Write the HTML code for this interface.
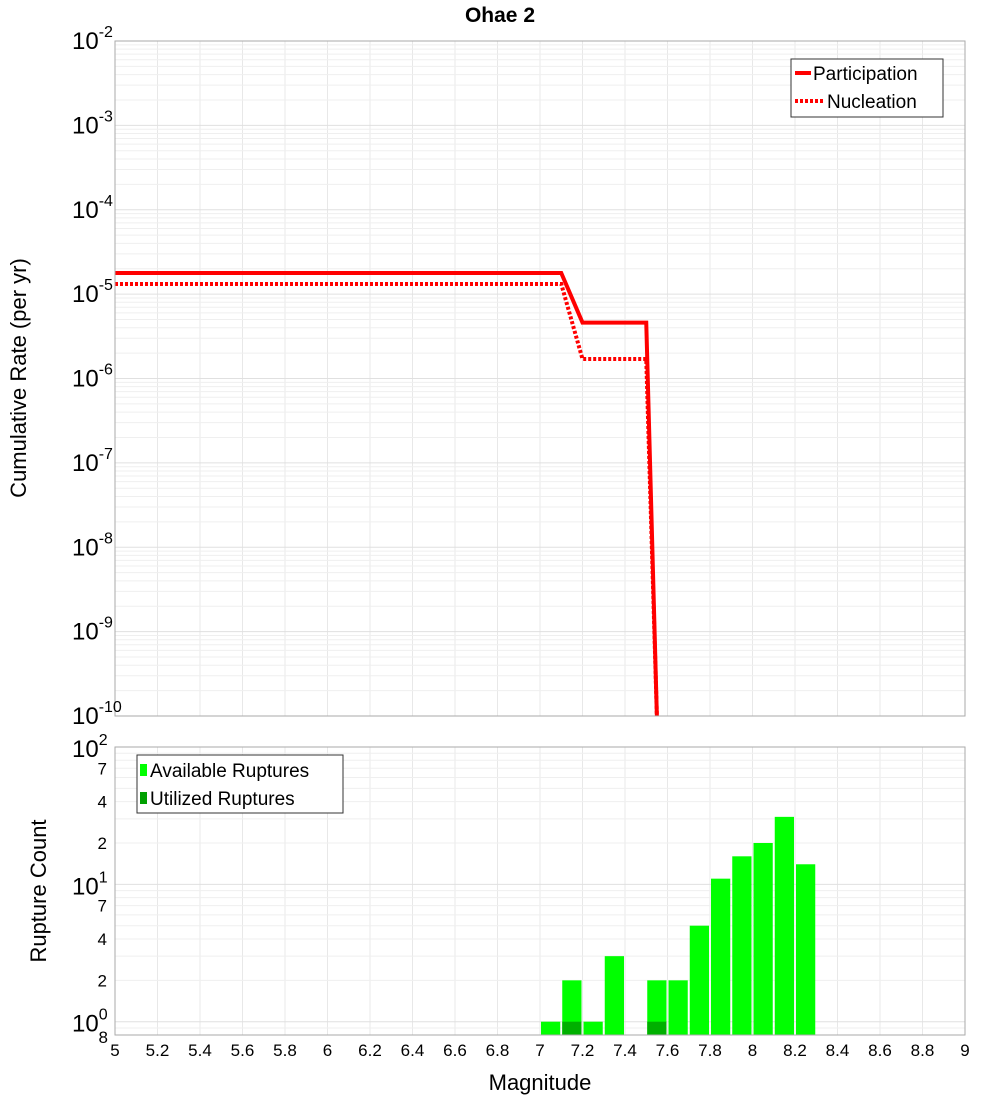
<!DOCTYPE html>
<html><head><meta charset="utf-8"><style>
body{margin:0;background:#fff;}
svg text{font-family:"Liberation Sans","DejaVu Sans",sans-serif;}
</style></head><body>
<svg id="chart" width="1000" height="1100" xmlns="http://www.w3.org/2000/svg">
<text x="500" y="22" text-anchor="middle" font-size="21" font-weight="bold">Ohae 2</text>
<g id="top-grid"></g>
<g id="bot-grid"></g>
<g id="top-series"></g>
<g id="bars"></g>
<rect x="115" y="41" width="850" height="675" fill="none" stroke="#aaa"/>
<rect x="115" y="747" width="850" height="288" fill="none" stroke="#aaa"/>
<g id="axes"></g>
<text transform="translate(26,378) rotate(-90)" text-anchor="middle" font-size="22">Cumulative Rate (per yr)</text>
<text transform="translate(46,891) rotate(-90)" text-anchor="middle" font-size="22">Rupture Count</text>
<text x="540" y="1090" text-anchor="middle" font-size="22">Magnitude</text>
<g>
<rect x="791" y="59" width="152" height="58" fill="#fff" stroke="#333"/>
<line x1="795" y1="73" x2="811" y2="73" stroke="#f00" stroke-width="4"/>
<text x="813" y="80" font-size="19">Participation</text>
<line x1="795" y1="101" x2="823" y2="101" stroke="#f00" stroke-width="4" stroke-dasharray="3,2"/>
<text x="827" y="108" font-size="19">Nucleation</text>
</g>
<g>
<rect x="137" y="755" width="206" height="58" fill="#fff" stroke="#333"/>
<rect x="140" y="764" width="7" height="12" fill="#00ff00"/>
<text x="150" y="777" font-size="19">Available Ruptures</text>
<rect x="140" y="792" width="7" height="12" fill="#00a000"/>
<text x="150" y="805" font-size="19">Utilized Ruptures</text>
</g>
</svg>
<script>
const ratePartM=[5.0,7.1,7.2,7.5,7.55];
const ratePartV=[1.78e-5,1.78e-5,4.6e-6,4.6e-6,1e-10];
const rateNuclM=[5.0,7.1,7.2,7.5,7.55];
const rateNuclV=[1.32e-5,1.32e-5,1.7e-6,1.7e-6,1e-10];
const binCenters=[7.05,7.15,7.25,7.35,7.45,7.55,7.65,7.75,7.85,7.95,8.05,8.15,8.25];
const availCounts=[1,2,1,3,0,2,2,5,11,16,20,31,14];
const usedCounts=[0,1,0,0,0,1,0,0,0,0,0,0,0];
const xTicks=[5,5.2,5.4,5.6,5.8,6,6.2,6.4,6.6,6.8,7,7.2,7.4,7.6,7.8,8,8.2,8.4,8.6,8.8,9];
const NS="http://www.w3.org/2000/svg";
const X=m=>115+(m-5)*212.5;
const YT=v=>41+(-2-Math.log10(v))*84.375;
const BMIN=Math.log10(0.8);
const YB=v=>1035-(Math.log10(v)-BMIN)*(288/(2-BMIN));
function mk(tag,attrs,parent){const e=document.createElementNS(NS,tag);for(const k in attrs)e.setAttribute(k,attrs[k]);parent.appendChild(e);return e;}
const tg=document.getElementById('top-grid'),bg=document.getElementById('bot-grid'),ax=document.getElementById('axes');
for(const t of xTicks){
 const l1=mk('line',{x1:X(t),x2:X(t),y1:41,y2:716,stroke:'#e8e8e8'},tg);
 
 
 const l2=mk('line',{x1:X(t),x2:X(t),y1:747,y2:1035,stroke:'#e8e8e8'},bg);
 
 
 const tx=mk('text',{x:X(t),y:1056,'text-anchor':'middle','font-size':17},ax);
 tx.textContent=String(t);
 
 
}
for(let e=-10;e<=-2;e++){
 for(let k=1;k<=9;k++){
  const v=k*Math.pow(10,e); if(v>0.0100001) continue;
  const g=mk('line',{x1:115,x2:965,y1:YT(v),y2:YT(v),stroke:k==1?'#e0e0e0':'#efefef'},tg);
  
  
 }
 const t=mk('text',{x:72,y:YT(Math.pow(10,e))+8,'font-size':24},ax);
 t.innerHTML='10<tspan dy="-12" font-size="16">'+e+'</tspan>';
 
 
}
for(let e=-1;e<=2;e++){
 for(let k=1;k<=9;k++){
  const v=k*Math.pow(10,e); if(v<0.8||v>100.01) continue;
  const g=mk('line',{x1:115,x2:965,y1:YB(v),y2:YB(v),stroke:k==1?'#e0e0e0':'#efefef'},bg);
  
  
 }
}
for(const e of [0,1,2]){
 const t=mk('text',{x:72,y:YB(Math.pow(10,e))+10,'font-size':24},ax);
 t.innerHTML='10<tspan dy="-12" font-size="16">'+e+'</tspan>';
 
 
}
for(const v of [2,4,7,20,40,70,0.8]){
 const t=mk('text',{x:v==0.8?108:107,y:YB(v)+(v==0.8?8:6),'text-anchor':'end','font-size':17},ax);
 t.textContent=String(v<1?8:(v>=10?v/10:v));
 
 
}
const ts=document.getElementById('top-series');
function line(ms,vs,dash,name){
 const pts=ms.map((m,i)=>X(m)+','+Math.min(716,YT(vs[i]))).join(' ');
 const p=mk('polyline',{points:pts,fill:'none',stroke:'#f00','stroke-width':4},ts);
 if(dash)p.setAttribute('stroke-dasharray','3,2');
 
 
}
line(rateNuclM,rateNuclV,true,'nucleation-line');
line(ratePartM,ratePartV,false,'participation-line');
const bars=document.getElementById('bars');
binCenters.forEach((c,i)=>{
 if(availCounts[i]>0){
  const y=YB(availCounts[i]);
  const r=mk('rect',{x:X(c-0.05)+1,y:y,width:212.5*0.1-2,height:1035-y,fill:'#00ff00'},bars);
  
  
 }
 if(usedCounts[i]>0){
  const y=YB(usedCounts[i]);
  const r=mk('rect',{x:X(c-0.05)+1,y:y,width:212.5*0.1-2,height:1035-y,fill:'#00b000'},bars);
  
  
 }
});
</script>
</body></html>
